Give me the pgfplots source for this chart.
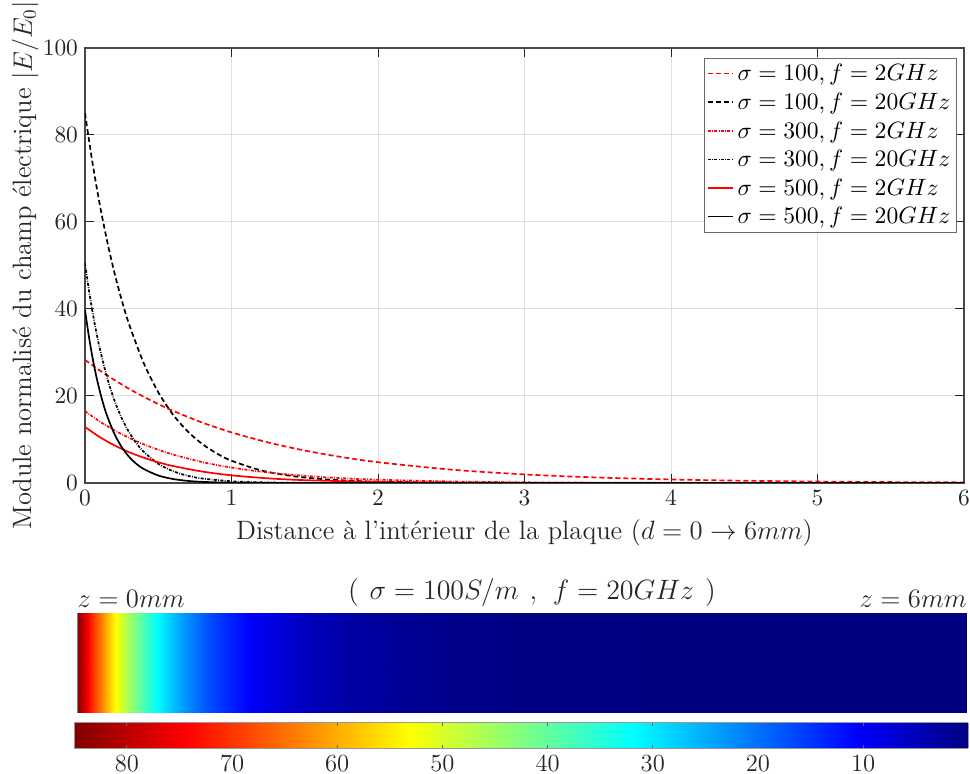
\RequirePackage{fix-cm}
\documentclass[border=0pt]{standalone}
\usepackage{pgfplots}
\pgfplotsset{compat=1.18}
\definecolor{axgray}{RGB}{38,38,38}
\definecolor{gridgray}{RGB}{223,223,223}
\begin{document}
\begin{tikzpicture}[font=\fontsize{11.7}{14}\selectfont]
\path[use as bounding box] (0,0) rectangle (485pt,387pt);
\begin{axis}[
  at={(42.5pt,145.5pt)}, anchor=south west,
  scale only axis, width=439.5pt, height=217.5pt,
  xmin=0, xmax=6, ymin=0, ymax=100,
  xtick={0,1,...,6}, ytick={0,20,...,100},
  grid=major, grid style={gridgray, line width=0.5pt},
  axis line style={axgray!85, line width=0.6pt},
  tick align=inside, major tick length=4.4pt,
  tick style={axgray, line width=0.5pt},
  ticklabel style={text=axgray, font=\fontsize{11.7}{14}\selectfont},
  xlabel={Distance à l'intérieur de la plaque ($d = 0 \rightarrow 6mm$)},
  ylabel={Module normalisé du champ électrique $|E/E_0|$},
  every axis x label/.style={at={(axis description cs:0.5,-0.131)}, anchor=base, text=axgray, font=\fontsize{13.3}{16}\selectfont},
  every axis y label/.style={at={(axis description cs:-0.0603,0.5)}, rotate=90, anchor=base, text=axgray, font=\fontsize{13.3}{16}\selectfont},
  legend style={at={(0.992,0.977)}, anchor=north east, draw=axgray!70, line width=0.5pt,
    inner sep=1pt, row sep=0.6pt, font=\fontsize{11.8}{14}\selectfont, text=black},
  legend cell align=left,
  legend image code/.code={\draw[#1] (0pt,0.3pt) -- (12.5pt,0.3pt);},
]
\addplot[red, line width=0.85pt, dash pattern=on 2.5pt off 1.5pt, smooth] coordinates {
(0,28.30)(0.1,25.89)(0.2,23.69)(0.3,21.67)(0.4,19.83)(0.5,18.15)(0.6,16.60)(0.8,13.90)(1,11.63)(1.25,9.32)(1.5,7.46)(1.75,5.97)(2,4.78)(2.5,3.07)(3,1.97)(3.5,1.26)(4,0.81)(4.5,0.52)(5,0.33)(5.5,0.21)(6,0.14)};
\addlegendentry{$\sigma = 100, f = 2GHz$}
\addplot[black, line width=0.85pt, dash pattern=on 2.5pt off 1.5pt, smooth] coordinates {
(0,85)(0.05,73.86)(0.1,64.18)(0.15,55.77)(0.2,48.46)(0.25,42.11)(0.3,36.59)(0.4,27.63)(0.5,20.86)(0.6,15.75)(0.7,11.89)(0.8,8.98)(0.9,6.78)(1,5.12)(1.2,2.92)(1.4,1.66)(1.6,0.95)(1.8,0.54)(2,0.31)(2.5,0.08)(3,0.02)(4,0.00)(5,0)(6,0)};
\addlegendentry{$\sigma = 100, f = 20GHz$}
\addplot[red, line width=0.85pt, dash pattern=on 1.5pt off 0.7pt on 0.4pt off 0.7pt, smooth] coordinates {
(0,16.5)(0.1,14.15)(0.2,12.13)(0.3,10.40)(0.4,8.91)(0.5,7.64)(0.6,6.55)(0.8,4.81)(1,3.54)(1.25,2.41)(1.5,1.64)(1.75,1.11)(2,0.76)(2.5,0.35)(3,0.16)(3.5,0.08)(4,0.04)(5,0.01)(6,0.00)};
\addlegendentry{$\sigma = 300, f = 2GHz$}
\addplot[black, line width=0.85pt, dash pattern=on 1.5pt off 0.7pt on 0.4pt off 0.7pt, smooth] coordinates {
(0,50.5)(0.025,44.71)(0.05,39.59)(0.075,35.05)(0.1,31.03)(0.15,24.33)(0.2,19.07)(0.25,14.95)(0.3,11.72)(0.35,9.19)(0.4,7.20)(0.5,4.42)(0.6,2.72)(0.7,1.67)(0.8,1.03)(1,0.39)(1.2,0.15)(1.5,0.03)(2,0.00)(3,0)(6,0)};
\addlegendentry{$\sigma = 300, f = 20GHz$}
\addplot[red, line width=0.85pt, smooth] coordinates {
(0,12.9)(0.1,10.57)(0.2,8.67)(0.3,7.10)(0.4,5.82)(0.5,4.77)(0.6,3.91)(0.8,2.63)(1,1.76)(1.25,1.07)(1.5,0.65)(2,0.24)(2.5,0.09)(3,0.03)(4,0.00)(6,0)};
\addlegendentry{$\sigma = 500, f = 2GHz$}
\addplot[black, line width=0.85pt, smooth] coordinates {
(0,39.8)(0.025,34.02)(0.05,29.07)(0.075,24.85)(0.1,21.24)(0.125,18.15)(0.15,15.52)(0.2,11.34)(0.25,8.28)(0.3,6.05)(0.35,4.42)(0.4,3.23)(0.5,1.72)(0.6,0.92)(0.7,0.49)(0.8,0.26)(1,0.08)(1.5,0.00)(2,0)(6,0)};
\addlegendentry{$\sigma = 500, f = 20GHz$}
\end{axis}

\begin{axis}[
  at={(38.65pt,30.65pt)}, anchor=south west,
  scale only axis, width=444.85pt, height=49.7pt,
  view={0}{90}, xmin=0, xmax=6, ymin=0, ymax=1,
  hide axis, colormap/jet, point meta min=0, point meta max=85,
  clip=false,
]
\addplot3[surf, shader=interp, point meta=explicit] table[x=x, y=y, z=z, meta=c] {
x y z c
0 0 0 85
0.05 0 0 77.68
0.1 0 0 71.00
0.15 0 0 64.89
0.2 0 0 59.30
0.25 0 0 54.20
0.3 0 0 49.53
0.35 0 0 45.27
0.4 0 0 41.38
0.5 0 0 34.56
0.6 0 0 28.87
0.7 0 0 24.11
0.8 0 0 20.14
0.9 0 0 16.82
1.0 0 0 14.05
1.2 0 0 9.80
1.4 0 0 6.84
1.6 0 0 4.77
1.8 0 0 3.33
2.0 0 0 2.32
2.5 0 0 0.94
3 0 0 0.38
4 0 0 0.06
5 0 0 0.01
6 0 0 0.0

0 1 0 85
0.05 1 0 77.68
0.1 1 0 71.00
0.15 1 0 64.89
0.2 1 0 59.30
0.25 1 0 54.20
0.3 1 0 49.53
0.35 1 0 45.27
0.4 1 0 41.38
0.5 1 0 34.56
0.6 1 0 28.87
0.7 1 0 24.11
0.8 1 0 20.14
0.9 1 0 16.82
1.0 1 0 14.05
1.2 1 0 9.80
1.4 1 0 6.84
1.6 1 0 4.77
1.8 1 0 3.33
2.0 1 0 2.32
2.5 1 0 0.94
3 1 0 0.38
4 1 0 0.06
5 1 0 0.01
6 1 0 0.0
};
\draw[gray, line width=0.8pt] (rel axis cs:0,0,0) -- (rel axis cs:0,1,0);
\node[anchor=base west, inner sep=0pt, text=axgray, yshift=3pt, font=\fontsize{13.3}{16}\selectfont] at (rel axis cs:0,1,0) {$z = 0mm$};
\node[anchor=base east, inner sep=0pt, text=axgray, yshift=3pt, font=\fontsize{13.3}{16}\selectfont] at (rel axis cs:1,1,0) {$z = 6mm$};
\node[anchor=center, text=axgray, font=\fontsize{14}{17}\selectfont] at (rel axis cs:0.511,1.211,0) {$(\mkern7mu\sigma = 100S/m\mkern7mu,\mkern7mu f = 20GHz\mkern7mu)$};
\end{axis}

\begin{axis}[
  at={(37.15pt,12.85pt)}, anchor=south west,
  scale only axis, width=447pt, height=12.8pt,
  view={0}{90}, xmin=0, xmax=85, ymin=0, ymax=1, x dir=reverse,
  colormap/jet, point meta min=0, point meta max=85,
  xtick={10,20,...,80}, ytick=\empty, ztick=\empty,
  tick align=inside, major tick length=1.8pt,
  tick style={axgray!70, line width=0.5pt},
  axis line style={gray!80, line width=0.6pt},
  ticklabel style={text=axgray, font=\fontsize{12.3}{15}\selectfont},
]
\addplot3[surf, shader=interp, point meta=explicit] table[x=x, y=y, z=z, meta=c] {
x y z c
0 0 0 0
10 0 0 10
20 0 0 20
30 0 0 30
40 0 0 40
50 0 0 50
60 0 0 60
70 0 0 70
80 0 0 80
85 0 0 85

0 1 0 0
10 1 0 10
20 1 0 20
30 1 0 30
40 1 0 40
50 1 0 50
60 1 0 60
70 1 0 70
80 1 0 80
85 1 0 85
};
\end{axis}
\end{tikzpicture}
\end{document}
